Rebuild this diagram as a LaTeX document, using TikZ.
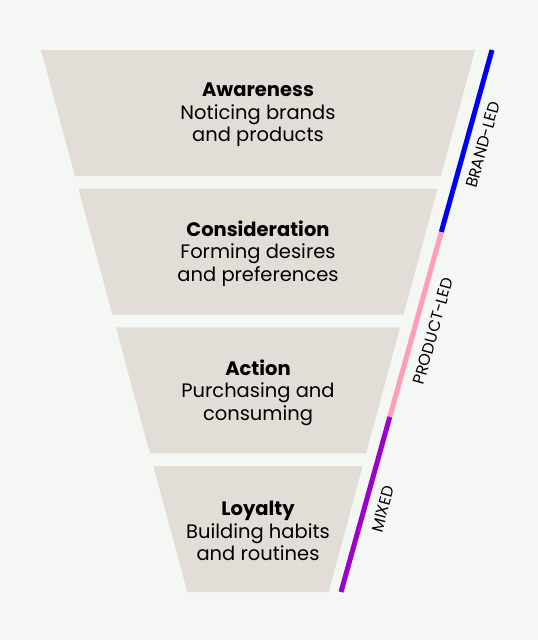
\documentclass[tikz,border=0pt]{standalone}
\usepackage{fontspec}
\setmainfont{Poppins}
\usetikzlibrary{calc}

\definecolor{bgcol}{HTML}{F5F7F4}
\definecolor{stagecol}{HTML}{E3DDD8}
\definecolor{brandcol}{HTML}{0000F2}
\definecolor{productcol}{HTML}{FF9DBA}
\definecolor{mixedcol}{HTML}{9E00CB}

\tikzset{
	stage/.style = {fill = stagecol},
	stagetext/.style = {align = center, font = \fontsize{19.5}{22.5}\selectfont},
	ledline/.style = {line width = 5pt},
	ledtext/.style = {font = \fontsize{16}{18}\selectfont, rotate = 74.4}
}

\begin{document}
\begin{tikzpicture}[x = 1pt, y = -1pt]
			\def\xC{258};
			\def\yTOP{50};
			\def\wTOP{217};
			\def\k{0.27};
			\def\dY{138.67};
			\def\H{126};

			\begin{scope}
				\fill [bgcol] (0,0) rectangle (538,640);
				\useasboundingbox (0,0) rectangle (538,640);
			\end{scope}

			\begin{scope}
				\foreach \i in {0,...,3} {
					\pgfmathsetmacro{\yA}{\yTOP+\i*\dY}
					\pgfmathsetmacro{\yB}{\yA+\H}
					\pgfmathsetmacro{\wA}{\wTOP-\k*(\yA-\yTOP)}
					\pgfmathsetmacro{\wB}{\wTOP-\k*(\yB-\yTOP)}
					\fill [stage] (\xC-\wA,\yA) -- (\xC+\wA,\yA) -- (\xC+\wB,\yB) -- (\xC-\wB,\yB) -- cycle;
				}
			\end{scope}

			\begin{scope}
				\node [stagetext] (awareness) at (\xC,\yTOP+65) {\textbf{Awareness}\\Noticing brands\\and products};
				\node [stagetext] (consideration) at (\xC,\yTOP+\dY+65) {\textbf{Consideration}\\Forming desires\\and preferences};
				\node [stagetext] (action) at (\xC,\yTOP+2*\dY+65) {\textbf{Action}\\Purchasing and\\consuming};
				\node [stagetext] (loyalty) at (\xC,\yTOP+3*\dY+65) {\textbf{Loyalty}\\Building habits\\and routines};
			\end{scope}

			\begin{scope}
				\coordinate (top) at (492,50);
				\coordinate (bot) at (341,592);
				\coordinate (bp) at ($(top)!0.336!(bot)$);
				\coordinate (pm) at ($(top)!0.677!(bot)$);

				\draw [ledline, brandcol] (top) -- (bp);
				\draw [ledline, productcol] (bp) -- (pm);
				\draw [ledline, mixedcol] (pm) -- (bot);
			\end{scope}

			\begin{scope}
				\node [ledtext] (brand) at (483,145) {BRAND-LED};
				\node [ledtext] (product) at (433,331) {PRODUCT-LED};
				\node [ledtext] (mixed) at (383,509) {MIXED};
			\end{scope}
		\end{tikzpicture}
\end{document}
